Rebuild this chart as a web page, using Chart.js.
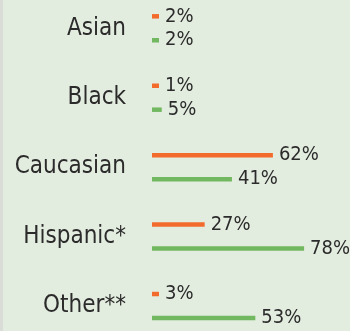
<!DOCTYPE html>
<html>
<head>
<meta charset="utf-8">
<style>
  html, body { margin: 0; padding: 0; background: #e3eddf; }
  #wrap { width: 350px; height: 331px; position: relative; }
</style>
</head>
<body>
<div id="wrap"><canvas id="myChart"></canvas></div>
<script src="https://cdn.jsdelivr.net/npm/chart.js@4.4.0/dist/chart.umd.min.js"></script>
<script>
    const categories = ['Asian', 'Black', 'Caucasian', 'Hispanic*', 'Other**'];
    const orangeValues = [2, 1, 62, 27, 3];
    const greenValues = [2, 5, 41, 78, 53];

    const FONT = "'Liberation Sans Narrow', 'DejaVu Sans Condensed', sans-serif";

    // paints the panel background and the grey strip on the left edge
    const panelBg = {
        id: 'panelBg',
        beforeDraw(chart) {
            const c = chart.ctx;
            c.save();
            c.fillStyle = '#e3eddf';
            c.fillRect(0, 0, chart.width, chart.height);
            c.fillStyle = '#d9dcd7';
            c.fillRect(0, 0, 3, chart.height);
            c.restore();
        }
    };

    // "62%" style labels after each bar end
    const valueLabels = {
        id: 'valueLabels',
        afterDatasetsDraw(chart) {
            const c = chart.ctx;
            c.save();
            c.font = '20px ' + FONT;
            c.fillStyle = '#2b2b2b';
            c.textAlign = 'left';
            c.textBaseline = 'middle';
            chart.data.datasets.forEach((ds, i) => {
                chart.getDatasetMeta(i).data.forEach((bar, j) => {
                    c.fillText(ds.data[j] + '%', bar.x + 6, bar.y);
                });
            });
            c.restore();
        }
    };

    var ctx = document.getElementById('myChart').getContext('2d');
    var myChart = new Chart(ctx, {
        type: 'bar',
        data: {
            labels: categories,
            datasets: [{
                label: 'Orange',
                data: orangeValues,
                backgroundColor: '#f26a2c',
                clip: false
            }, {
                label: 'Green',
                data: greenValues,
                backgroundColor: '#72b861',
                clip: false
            }]
        },
        options: {
            indexAxis: 'y',
            responsive: true,
            maintainAspectRatio: false,
            animation: false,
            categoryPercentage: 0.69,
            barPercentage: 1,
            maxBarThickness: 4.5,
            minBarLength: 7,
            layout: { padding: { left: 0, right: 3, top: 28.3, bottom: 25 } },
            plugins: {
                legend: { display: false },
                tooltip: { enabled: false }
            },
            scales: {
                x: {
                    display: false,
                    min: 0,
                    max: 100
                },
                y: {
                    offset: false,
                    grid: { display: false, drawTicks: false },
                    border: { display: false },
                    ticks: {
                        color: '#2b2b2b',
                        font: { family: FONT, size: 24 },
                        padding: 26
                    },
                    afterFit: (s) => {
                        s.width = 152;
                        s.paddingTop = 0;
                        s.paddingBottom = 0;
                    }
                }
            }
        },
        plugins: [panelBg, valueLabels]
    });
</script>
</body>
</html>
